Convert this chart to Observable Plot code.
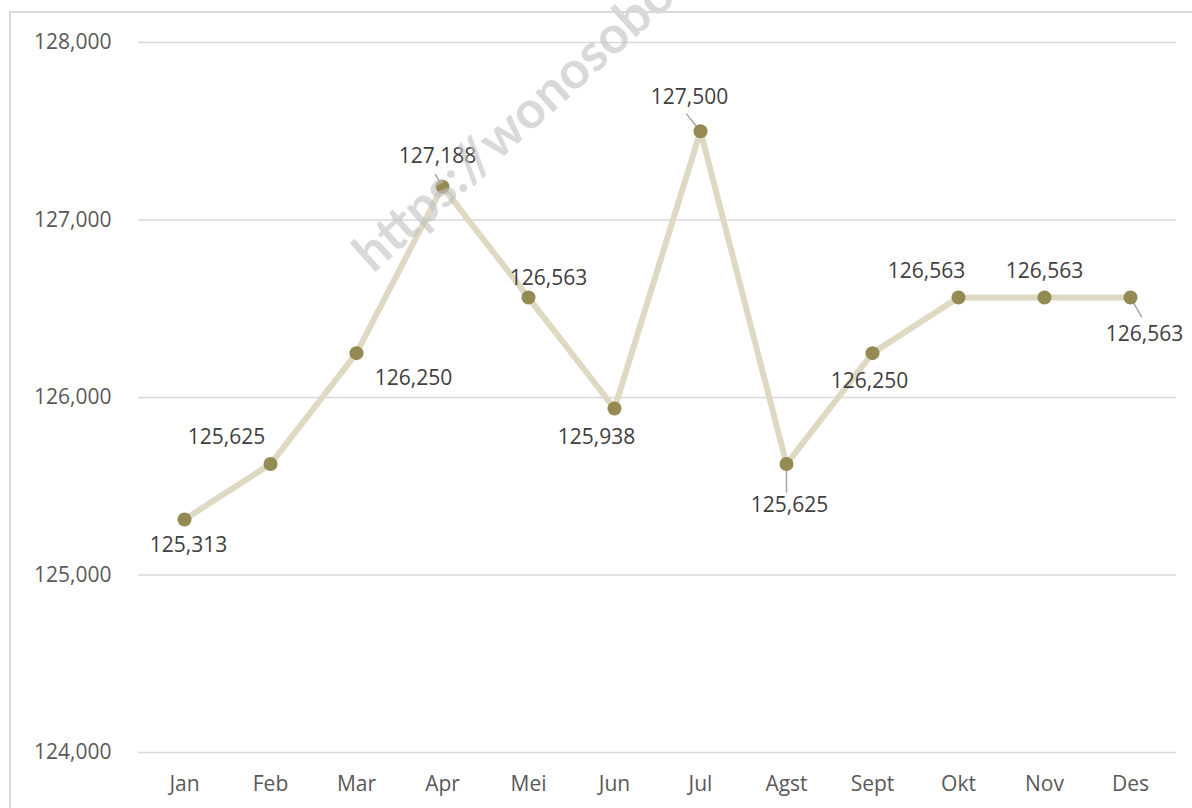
<!DOCTYPE html>
<html>
<head>
<meta charset="utf-8">
<script src="https://cdn.jsdelivr.net/npm/d3@7"></script>
<script src="https://cdn.jsdelivr.net/npm/@observablehq/plot@0.6"></script>
<style>
  html, body { margin: 0; padding: 0; background: #fff; overflow: hidden; }
  #wrap { position: relative; width: 1192px; height: 808px; }
  #border { position: absolute; left: 9px; top: 11px; width: 1200px; height: 820px; border: 2px solid #d9d9d9; pointer-events: none; }
</style>
</head>
<body>
<div id="wrap"><div id="border"></div></div>
<script>
const months = ["Jan","Feb","Mar","Apr","Mei","Jun","Jul","Agst","Sept","Okt","Nov","Des"];
const values = [125313,125625,126250,127188,126563,125938,127500,125625,126250,126563,126563,126563];
const yTicks = [124000,125000,126000,127000,128000];
const watermark = "https://wonosobokab.bps.go.id";

// label placement (pixel offsets from each point) and leader lines [length, angle]
const labelOffsets = [[4,26],[-44,-27],[57,25],[-5,-30],[20,-19],[-18,29],[-11,-34],[3,41],[-3,28],[-32,-26],[0,-26],[14,37]];
const leaders = [null,null,null,[14,-30],null,null,[22,-39],[28,180],null,null,null,[22,150]];

const data = months.map((m,i)=>({month:m, value:values[i], leader:leaders[i]}));
const fmt = d3.format(",");
const font = "'Open Sans', sans-serif";

const labelMarks = data.map((d,i)=>Plot.text([d], {x: "month", y: "value", text: d=>fmt(d.value), dx: labelOffsets[i][0], dy: labelOffsets[i][1], fontSize: 21, fill: "#404040"}));

const plot = Plot.plot({
  width: 1192,
  height: 808,
  marginLeft: 138,
  marginRight: 16,
  marginTop: 42,
  marginBottom: 56,
  style: {fontFamily: font, background: "transparent"},
  x: {type: "point", domain: months, padding: 0.5},
  y: {domain: [124000,128000]},
  length: {type: "identity"},
  marks: [
    Plot.gridY(yTicks, {stroke: "#d9d9d9", strokeOpacity: 1, strokeWidth: 1.5}),
    Plot.axisY(yTicks, {tickSize: 0, tickPadding: 27, tickFormat: fmt, fontSize: 21, fill: "#595959", label: null}),
    Plot.axisX({tickSize: 0, tickPadding: 24, fontSize: 21, fill: "#595959", label: null}),
    Plot.line(data, {x: "month", y: "value", stroke: "#ddd9c3", strokeWidth: 6}),
    Plot.vector(data.filter(d=>d.leader), {x: "month", y: "value", length: d=>d.leader[0], rotate: d=>d.leader[1], anchor: "start", stroke: "#a6a6a6", strokeWidth: 1.5, shape: {draw(ctx, l){ ctx.moveTo(0,0); ctx.lineTo(0,-l); }}}),
    Plot.dot(data, {x: "month", y: "value", r: 7, fill: "#948a54", stroke: null}),
    ...labelMarks,
    Plot.text([watermark], {frameAnchor: "top-left", dx: 210, dy: 204, rotate: -42, textAnchor: "start", text: d=>d, fill: "#bfbfbf", fillOpacity: 0.6, fontWeight: "bold", fontSize: 52, fontFamily: "Lato, sans-serif"})
  ]
});
document.getElementById("wrap").prepend(plot);
</script>
</body>
</html>
